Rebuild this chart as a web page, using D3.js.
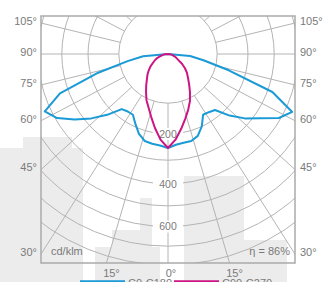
<!DOCTYPE html>
<html><head><meta charset="utf-8">
<script src="https://cdn.jsdelivr.net/npm/d3@7"></script>
<style>body{margin:0;background:#fff}svg{display:block}text{font-family:"Liberation Sans",Arial,sans-serif}</style>
</head><body><svg id="c" width="328" height="282"></svg>
<script>
const angles = [0,5,10,15,20,25,30,35,40,45,50,55,60,65,70,75,80,85,90];
const c0   = [252,241,237,237,226,200,166,169,176,226,276,324,392,432,320,142,64,32,0];
const c180 = [252,244,241,237,218,190,166,166,172,222,276,332,392,427,336,173,77,38,0];
const c90  = [252,222,183,149,123,105,85,69,56,47,38,30,22,17,12,7,4,2,0];
const c270 = [252,222,186,155,130,108,85,66,52,42,32,22,13,9,6,4,2,1,0];
const ringValues = [100,200,300,400,500,600,700,800];
const ringLabels = [200,400,600];
const spokeAngles = [0,15,30,45,60,75,90,105,120,135,150];
const sideLabels = [105,90,75,60,45,30];
const bottomLabels = [-15,0,15];
const seriesNames = ["C0-C180","C90-C270"];
const unitText = "cd/klm";
const effText = "η = 86%";

const W=328,H=282, fx0=41, fx1=295, fy0=16, fy1=263, cx=168, cy=54, sq=0.91;
const blue="#1a9ad6", mag="#cc1583", grid="#b4b4b4", txt="#7a7a7a";
const svg=d3.select("#c");

// decorative background blocks
const bg=[[0,148,83,134],[23,137,49,11],[95,247,65,35],[112,230,40,17],[140,198,12,49],[184,176,60,106],[244,240,43,42]];
svg.append("g").selectAll("rect").data(bg).join("rect")
  .attr("x",d=>d[0]).attr("y",d=>d[1]).attr("width",d=>d[2]).attr("height",d=>d[3]).attr("fill","#ececec");

const r=d3.scalePow().exponent(0.7).domain([0,800]).range([0,211]);
const rad=a=>a*Math.PI/180;

svg.append("clipPath").attr("id","fr").append("rect")
  .attr("x",fx0).attr("y",fy0).attr("width",fx1-fx0).attr("height",fy1-fy0);
const g=svg.append("g").attr("clip-path","url(#fr)");
const cg=g.append("g").attr("transform",`translate(${cx},${cy})`);

// rings
cg.selectAll("circle.ring").data(ringValues).join("circle").attr("class","ring")
  .attr("r",d=>r(d)).attr("fill","none").attr("stroke",grid).attr("stroke-width",1);
// spokes (both sides)
const spokes=[];
spokeAngles.forEach(a=>{spokes.push(a); if(a>0) spokes.push(-a);});
const dir=a=>{const dx=Math.sin(rad(a)),dy=sq*Math.cos(rad(a)),n=Math.hypot(dx,dy);return [dx/n,dy/n];};
cg.selectAll("line.sp").data(spokes).join("line").attr("class","sp")
  .attr("x1",a=>r(100)*dir(a)[0]).attr("y1",a=>r(100)*dir(a)[1])
  .attr("x2",a=>400*dir(a)[0]).attr("y2",a=>400*dir(a)[1])
  .attr("stroke",grid).attr("stroke-width",1);

// ring labels
const rl=cg.selectAll("g.rl").data(ringLabels).join("g").attr("class","rl")
  .attr("transform",d=>`translate(0,${r(d)})`);
rl.append("rect").attr("x",-15).attr("y",-6).attr("width",30).attr("height",12).attr("rx",5).attr("fill","#fff");
rl.append("text").text(d=>d).attr("text-anchor","middle").attr("dy","0.35em")
  .attr("font-size",10.5).attr("fill",txt);

// curves
function curvePts(left,right){
  const pts=[];
  for(let i=angles.length-1;i>=0;i--) pts.push([Math.PI+rad(angles[i]), r(left[i])]);
  for(let i=1;i<angles.length;i++) pts.push([Math.PI-rad(angles[i]), r(right[i])]);
  return pts;
}
const lr=d3.lineRadial().angle(d=>d[0]).radius(d=>d[1]).curve(d3.curveLinear);
cg.append("path").attr("d",lr(curvePts(c180,c0))).attr("fill","none").attr("stroke",blue)
  .attr("stroke-width",2).attr("stroke-linejoin","round");
cg.append("path").attr("d",lr(curvePts(c90,c270))).attr("fill","none").attr("stroke",mag)
  .attr("stroke-width",2).attr("stroke-linejoin","round");

// frame
svg.append("rect").attr("x",fx0).attr("y",fy0).attr("width",fx1-fx0).attr("height",fy1-fy0)
  .attr("fill","none").attr("stroke","#aaaaaa").attr("stroke-width",1.5);

// side labels: where the spoke meets the frame side
sideLabels.forEach(a=>{
  const d=dir(a), y=cy+(cx-fx0)*d[1]/d[0]-2;
  svg.append("text").text(a+"°").attr("x",fx0-4).attr("y",y).attr("dy","0.35em")
    .attr("text-anchor","end").attr("font-size",11).attr("fill",txt);
  svg.append("text").text(a+"°").attr("x",fx1+5).attr("y",y).attr("dy","0.35em")
    .attr("text-anchor","start").attr("font-size",11).attr("fill",txt);
});
bottomLabels.forEach(a=>{
  const d=dir(a), x=cx+(fy1-cy)*d[0]/d[1]+(a===0?3:5);
  svg.append("text").text(Math.abs(a)+"°").attr("x",x).attr("y",fy1+10).attr("dy","0.35em")
    .attr("text-anchor","middle").attr("font-size",11).attr("fill",txt);
});
svg.append("text").text(unitText).attr("x",fx0+10).attr("y",fy1-8).attr("font-size",11).attr("fill",txt);
svg.append("text").text(effText).attr("x",fx1-5).attr("y",fy1-8).attr("text-anchor","end").attr("font-size",11).attr("fill",txt);

// legend
const lg=svg.append("g");
[[80,blue,seriesNames[0]],[174,mag,seriesNames[1]]].forEach(([x,c,t])=>{
  lg.append("line").attr("x1",x).attr("x2",x+45).attr("y1",281.5).attr("y2",281.5).attr("stroke",c).attr("stroke-width",2.5);
  lg.append("text").text(t).attr("x",x+48).attr("y",287).attr("font-size",11).attr("fill",txt);
});
</script></body></html>
